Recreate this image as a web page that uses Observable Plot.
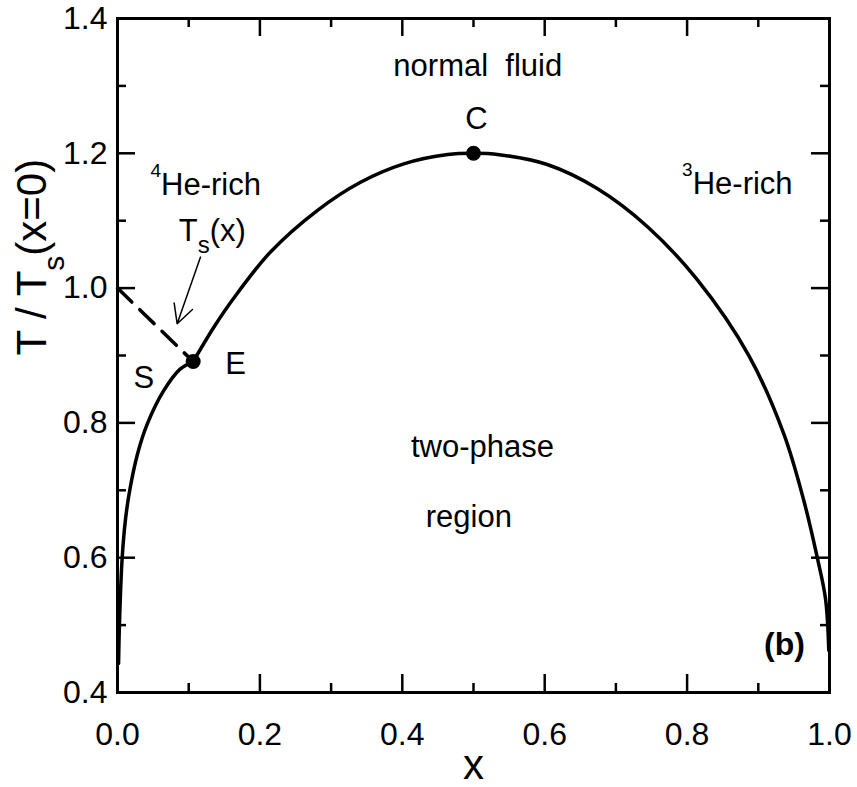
<!DOCTYPE html>
<html>
<head>
<meta charset="utf-8">
<script src="https://cdn.jsdelivr.net/npm/d3@7"></script>
<script src="https://cdn.jsdelivr.net/npm/@observablehq/plot@0.6"></script>
<style>
  html, body { margin: 0; padding: 0; background: white; }
  svg text { white-space: pre; }
</style>
</head>
<body>
<div id="chart"></div>
<script>
// ---- data ----
// phase-separation curve below the tricritical point E (S side)
const lowerX = [0.0015, 0.0029, 0.0065, 0.011, 0.017, 0.0281, 0.042, 0.0649, 0.0879, 0.1063];
const lowerT = [0.443, 0.5068, 0.5988, 0.6549, 0.6989, 0.7539, 0.7988, 0.8478, 0.8798, 0.891];
// from E over the critical point C down to x = 1
const upperX = [0.1063, 0.1353, 0.1629, 0.2149, 0.2805, 0.3413, 0.4021, 0.4639, 0.5, 0.536, 0.6035, 0.6737, 0.744, 0.8142, 0.8867, 0.9358, 0.9639, 0.9827, 0.9944, 0.999];
const upperT = [0.891, 0.942, 0.9846, 1.0536, 1.1151, 1.1571, 1.1844, 1.1982, 1.2, 1.198, 1.1834, 1.1478, 1.0915, 1.0125, 0.8999, 0.7838, 0.6849, 0.6007, 0.539, 0.4623];
// lambda line Ts(x), dashed
const dashX = [0, 0.1063];
const dashT = [1.0, 0.891];
const pointNames = ["C", "E"];
const pointX = [0.5, 0.1063];
const pointT = [1.2, 0.891];
const arrowFrom = {x: 0.1166, t: 1.046};
const arrowTo = {x: 0.0838, t: 0.947};
const xMajor = [0, 0.2, 0.4, 0.6, 0.8, 1.0];
const xMinor = [0.1, 0.3, 0.5, 0.7, 0.9];
const yMajor = [0.4, 0.6, 0.8, 1.0, 1.2, 1.4];
const yMinor = [0.5, 0.7, 0.9, 1.1, 1.3];
const centeredLabels = [
  {text: "normal  fluid", x: 0.506, t: 1.315},
  {text: "C", x: 0.504, t: 1.236},
  {text: "S", x: 0.0369, t: 0.8515},
  {text: "E", x: 0.1657, t: 0.8728},
  {text: "two-phase", x: 0.5126, t: 0.749},
  {text: "region", x: 0.4934, t: 0.6453}
];
const startLabels = [
  {text: "4He-rich", x: 0.0463, t: 1.1384},
  {text: "Ts(x)", x: 0.0861, t: 1.0696},
  {text: "3He-rich", x: 0.793, t: 1.1399}
];
const panelLabel = [{text: "(b)", x: 0.9368, t: 0.4549}];
const xLabel = "x";
const yLabel = "T / Ts(x=0)";

// ---- build ----
const lower = lowerX.map((x, i) => ({x, t: lowerT[i]}));
const upper = upperX.map((x, i) => ({x, t: upperT[i]}));
const dash = dashX.map((x, i) => ({x, t: dashT[i]}));
const points = pointNames.map((n, i) => ({n, x: pointX[i], t: pointT[i]}));

const W = 857, H = 787;
const mL = 117, mR = 28, mT = 18, mB = 95;
const innerW = W - mL - mR, innerH = H - mT - mB;
const majorLen = 18, minorLen = 9;
const font = "'Liberation Sans', Arial, Helvetica, sans-serif";

const chart = Plot.plot({
  width: W,
  height: H,
  marginLeft: mL,
  marginRight: mR,
  marginTop: mT,
  marginBottom: mB,
  style: {fontFamily: font, fontSize: "31px", color: "black", background: "white", overflow: "visible"},
  x: {domain: [0, 1]},
  y: {domain: [0.4, 1.4]},
  marks: [
    Plot.axisX({anchor: "bottom", ticks: xMajor, tickSize: 0, tickPadding: 30, tickFormat: d3.format(".1f"), fontSize: 32, label: null}),
    Plot.axisY({anchor: "left", ticks: yMajor, tickSize: 0, tickPadding: 10, tickFormat: d3.format(".1f"), fontSize: 32, label: null}),
    // inward ticks on all four sides
    Plot.tickX(xMajor, {x: d => d, insetTop: innerH - majorLen, strokeWidth: 2.5}),
    Plot.tickX(xMajor, {x: d => d, insetBottom: innerH - majorLen, strokeWidth: 2.5}),
    Plot.tickX(xMinor, {x: d => d, insetTop: innerH - minorLen, strokeWidth: 2.5}),
    Plot.tickX(xMinor, {x: d => d, insetBottom: innerH - minorLen, strokeWidth: 2.5}),
    Plot.tickY(yMajor, {y: d => d, insetRight: innerW - majorLen, strokeWidth: 2.5}),
    Plot.tickY(yMajor, {y: d => d, insetLeft: innerW - majorLen, strokeWidth: 2.5}),
    Plot.tickY(yMinor, {y: d => d, insetRight: innerW - minorLen, strokeWidth: 2.5}),
    Plot.tickY(yMinor, {y: d => d, insetLeft: innerW - minorLen, strokeWidth: 2.5}),
    Plot.frame({stroke: "black", strokeWidth: 3}),
    Plot.line(lower, {x: "x", y: "t", curve: "catmull-rom", stroke: "black", strokeWidth: 3.5}),
    Plot.line(upper, {x: "x", y: "t", curve: "catmull-rom", stroke: "black", strokeWidth: 3.5}),
    Plot.line(dash, {x: "x", y: "t", stroke: "black", strokeWidth: 3.5, strokeDasharray: "20,11"}),
    Plot.dot(points, {x: "x", y: "t", r: 7.5, fill: "black", stroke: null}),
    Plot.arrow([{from: arrowFrom, to: arrowTo}], {
      x1: d => d.from.x, y1: d => d.from.t, x2: d => d.to.x, y2: d => d.to.t,
      stroke: "black", strokeWidth: 1.5, headLength: 21, headAngle: 55
    }),
    Plot.text(centeredLabels, {x: "x", y: "t", text: "text", textAnchor: "middle", lineAnchor: "bottom", fontSize: 31, fill: "black"}),
    Plot.text(startLabels, {x: "x", y: "t", text: "text", textAnchor: "start", lineAnchor: "bottom", fontSize: 31, fill: "black"}),
    Plot.text(panelLabel, {x: "x", y: "t", text: "text", textAnchor: "middle", lineAnchor: "bottom", fontSize: 32, fontWeight: "bold", fill: "black"}),
    Plot.text([xLabel], {text: d => d, frameAnchor: "bottom", lineAnchor: "bottom", dy: 86, fontSize: 42, fill: "black"}),
    Plot.text([yLabel], {text: d => d, frameAnchor: "left", lineAnchor: "bottom", rotate: -90, dx: -72, fontSize: 42, fill: "black"})
  ]
});

// ---- rich text: superscripts / subscripts ----
const rich = {
  "4He-rich": [{t: "4", size: 19, shift: -18}, {t: "He-rich"}],
  "3He-rich": [{t: "3", size: 19, shift: -18}, {t: "He-rich"}],
  "Ts(x)": [{t: "T"}, {t: "s", size: 24, shift: 12}, {t: "(x)"}],
  "T / Ts(x=0)": [{t: "T / T"}, {t: "s", size: 30, shift: 18}, {t: "(x=0)"}]
};
chart.querySelectorAll("text").forEach(el => {
  const parts = rich[el.textContent];
  if (!parts) return;
  el.textContent = "";
  let cur = 0;
  for (const p of parts) {
    const ts = document.createElementNS("http://www.w3.org/2000/svg", "tspan");
    const target = p.shift || 0;
    if (target - cur !== 0) ts.setAttribute("dy", String(target - cur));
    cur = target;
    if (p.size) ts.setAttribute("font-size", p.size);
    ts.textContent = p.t;
    el.appendChild(ts);
  }
});

document.getElementById("chart").appendChild(chart);
</script>
</body>
</html>
